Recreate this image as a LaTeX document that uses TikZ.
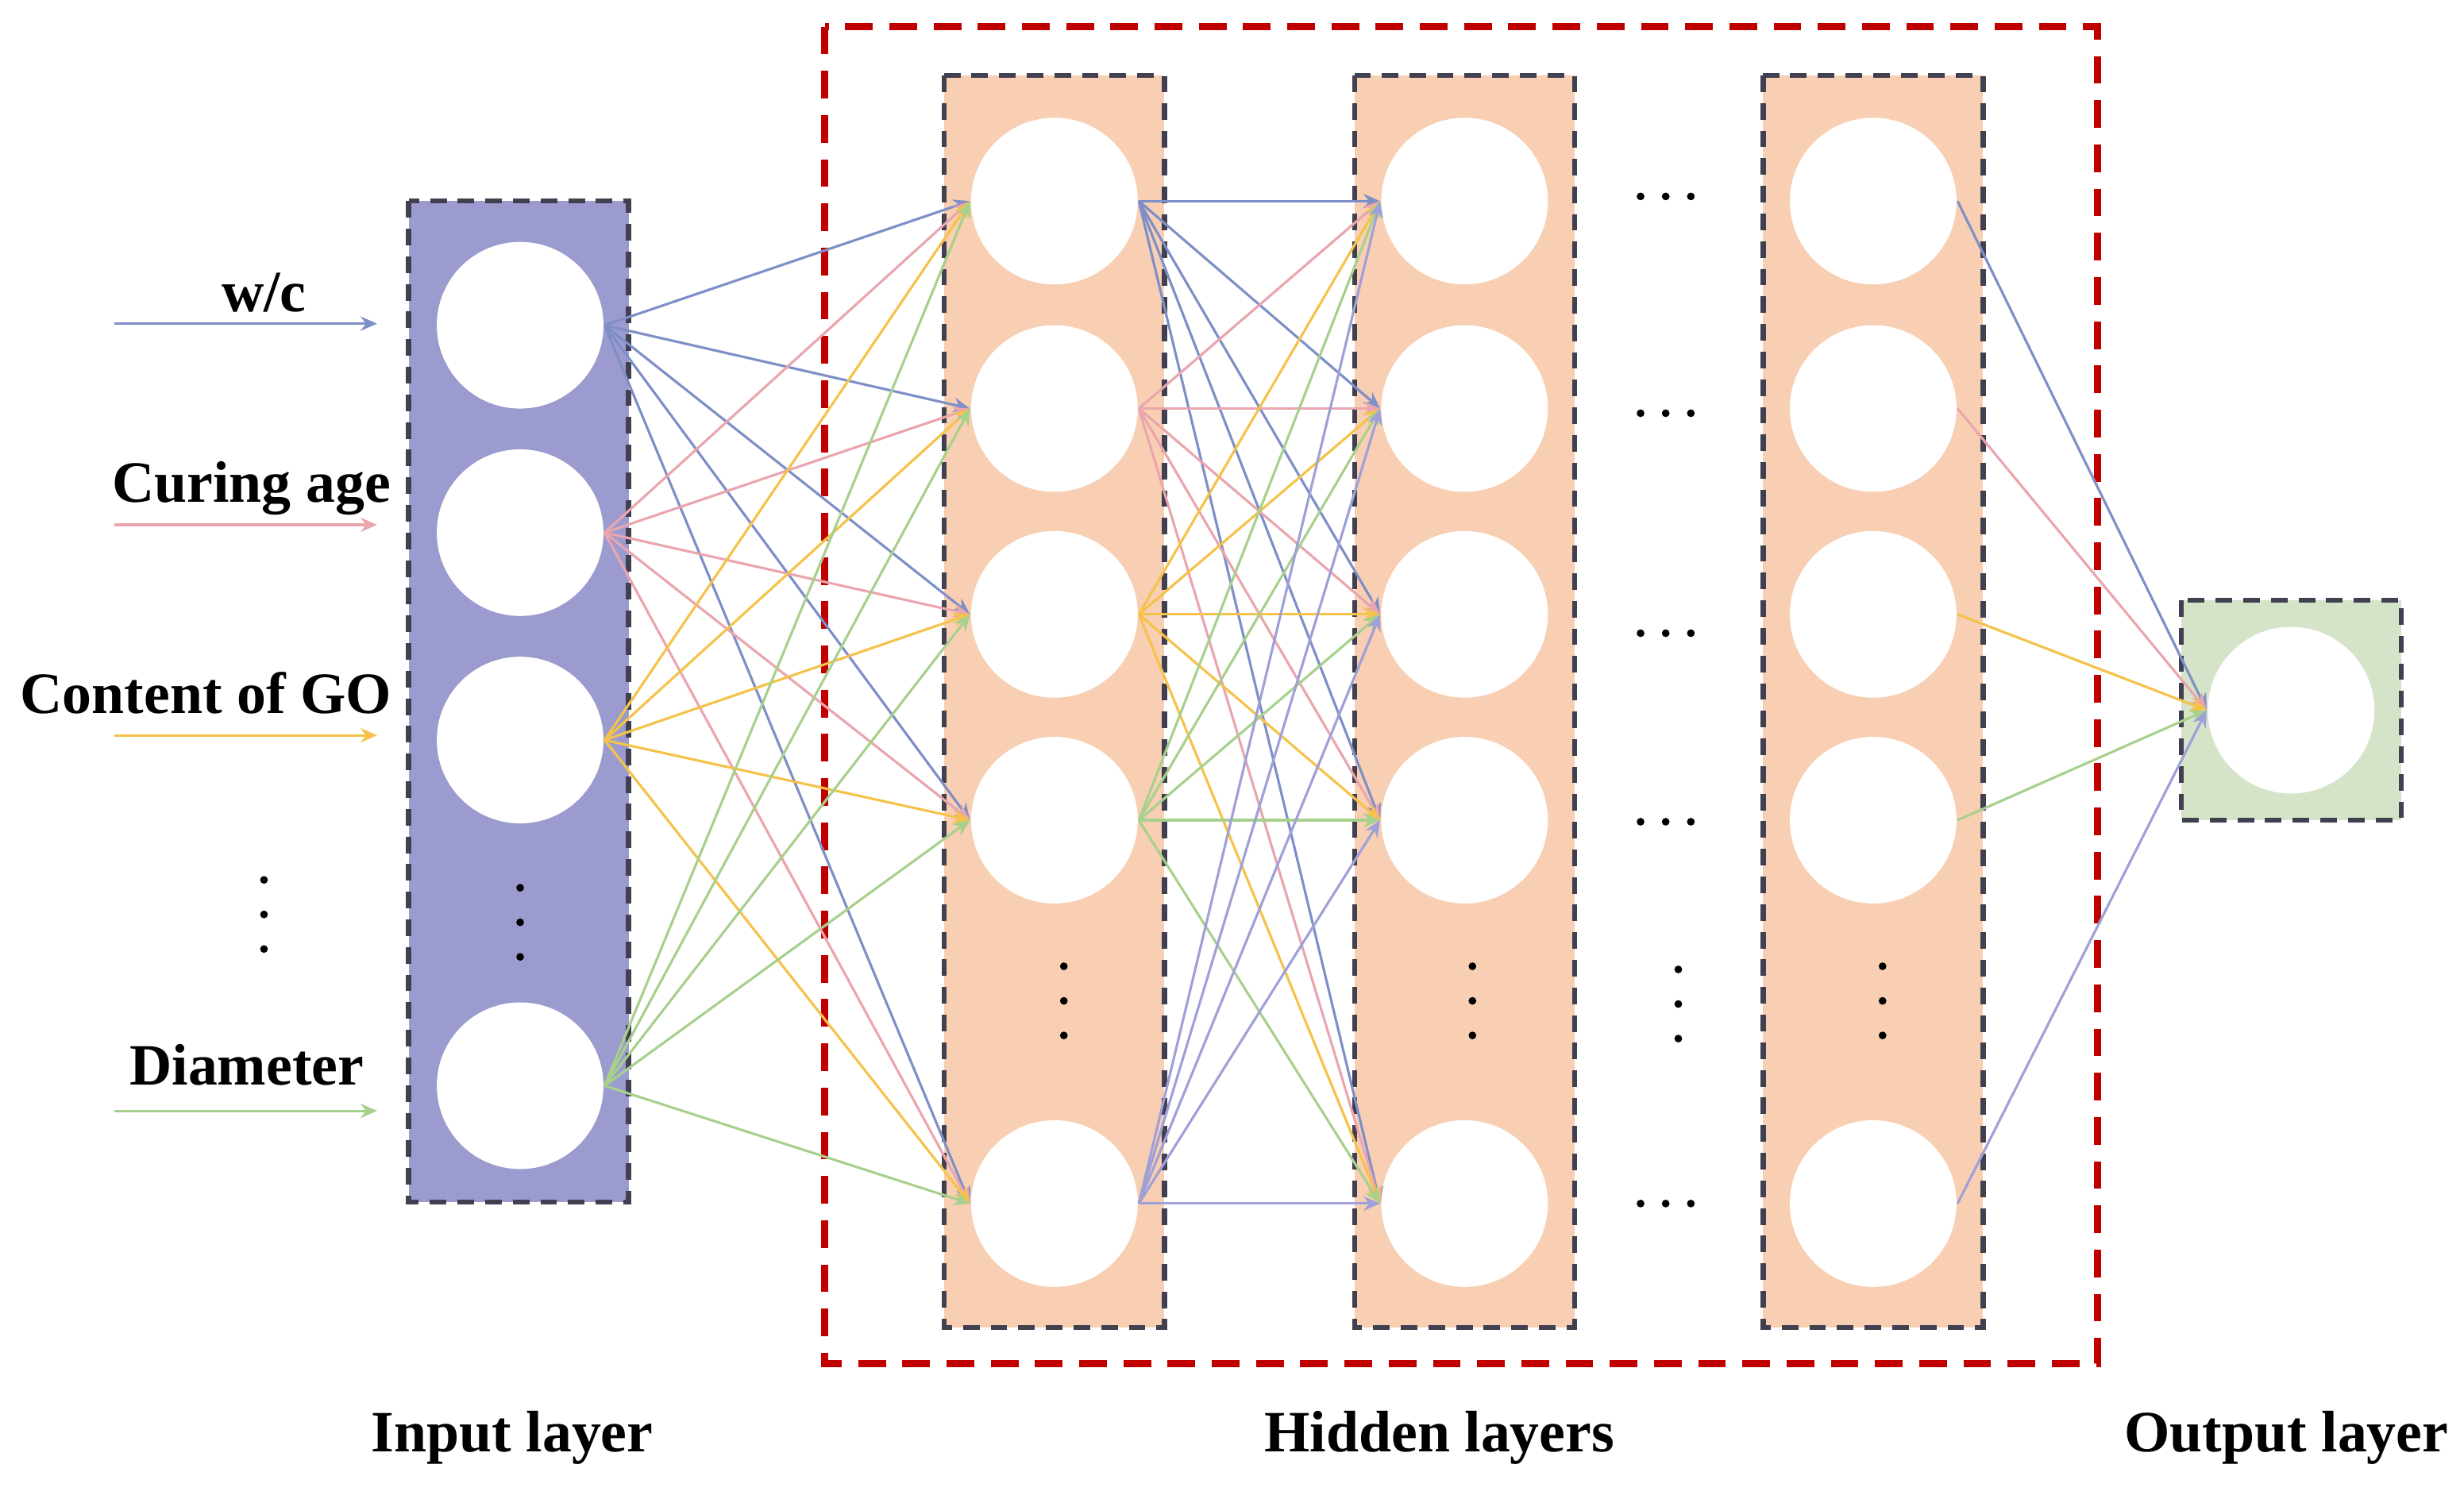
\documentclass[tikz,border=0pt]{standalone}
\usepackage{fontspec}
\setmainfont{Liberation Serif}
\usetikzlibrary{arrows.meta}
\definecolor{cB}{HTML}{7E8FC8}
\definecolor{cP}{HTML}{EAA5AE}
\definecolor{cY}{HTML}{F5C24A}
\definecolor{cG}{HTML}{A8D08D}
\definecolor{cV}{HTML}{A0A0D8}
\definecolor{inFill}{HTML}{9B9BCF}
\definecolor{hidFill}{HTML}{F8CFB2}
\definecolor{outFill}{HTML}{D5E3C8}
\definecolor{bord}{HTML}{404050}
\definecolor{redd}{HTML}{C00000}
\begin{document}
\begin{tikzpicture}[x=0.01cm,y=-0.01cm,
  layer/.style={draw=bord,dashed,line width=0.9pt,dash pattern=on 3pt off 2pt},
  neuron/.style={circle,fill=white,minimum size=1.06cm,inner sep=0pt},
  conn/.style={line width=0.45pt,-{Stealth[length=3pt,width=2.6pt]}},
  lab/.style={font=\fontsize{10.6}{12}\selectfont\bfseries},
  dot/.style={circle,fill=black,inner sep=0pt,minimum size=1.4pt}]
\useasboundingbox (0,0) rectangle (1568,954);
% boxes
\draw[redd,line width=1.3pt,dash pattern=on 5pt off 3pt] (525,17) rectangle (1335,868);
\fill[inFill] (260,128) rectangle (400,765);
\draw[layer] (260,128) rectangle (400,765);
\foreach \x in {601,862,1122}{
  \fill[hidFill] (\x,48) rectangle (\x+140,845);
  \draw[layer] (\x,48) rectangle (\x+140,845);}
\fill[outFill] (1388,382) rectangle (1528,522);
\draw[layer] (1388,382) rectangle (1528,522);
% neurons
\foreach \y [count=\i] in {207,339,471,691} \node[neuron] (i\i) at (331,\y) {};
\foreach \y [count=\i] in {128,260,391,522,766}{
  \node[neuron] (a\i) at (671,\y) {};
  \node[neuron] (b\i) at (932,\y) {};
  \node[neuron] (c\i) at (1192,\y) {};}
\node[neuron] (o) at (1458,452) {};
% inputs
\coordinate (s1) at (73,206); \coordinate (t1) at (240,206);
\coordinate (s2) at (73,334); \coordinate (t2) at (240,334);
\coordinate (s3) at (73,468); \coordinate (t3) at (240,468);
\coordinate (s4) at (73,707); \coordinate (t4) at (240,707);
\draw[conn,cB] (s1)--(t1); \draw[conn,cP] (s2)--(t2);
\draw[conn,cY] (s3)--(t3); \draw[conn,cG] (s4)--(t4);
\node[lab] (l1) at (168,186) {w/c};
\node[lab] (l2) at (160,311) {Curing age};
\node[lab] (l3) at (131,441) {Content of GO};
\node[lab] (l4) at (157,678) {Diameter};
% connections
\foreach \i/\c in {1/cB,2/cP,3/cY,4/cG}
  \foreach \j in {1,...,5} \draw[conn,\c] (i\i.east)--(a\j.west);
\foreach \i/\c in {1/cB,2/cP,3/cY,4/cG,5/cV}
  \foreach \j in {1,...,5} \draw[conn,\c] (a\i.east)--(b\j.west);
\foreach \i/\c in {1/cB,2/cP,3/cY,4/cG,5/cV}
  \draw[conn,\c] (c\i.east)--(o.west);
% dots
\foreach \x/\y in {168/560,331/565,677/615,937/615,1068/617,1198/615}{
  \foreach \k in {0,1,2} \node[dot] at (\x,\y+\k*22) {};}
\foreach \y in {125,263,403,523,766}
  \foreach \k in {-1,0,1} \node[dot] at (1060+\k*16,\y) {};
% titles
\node[lab] (t_in) at (326,915) {Input layer};
\node[lab] (t_hid) at (916,915) {Hidden layers};
\node[lab] (t_out) at (1455,915) {Output layer};
\end{tikzpicture}
\end{document}
